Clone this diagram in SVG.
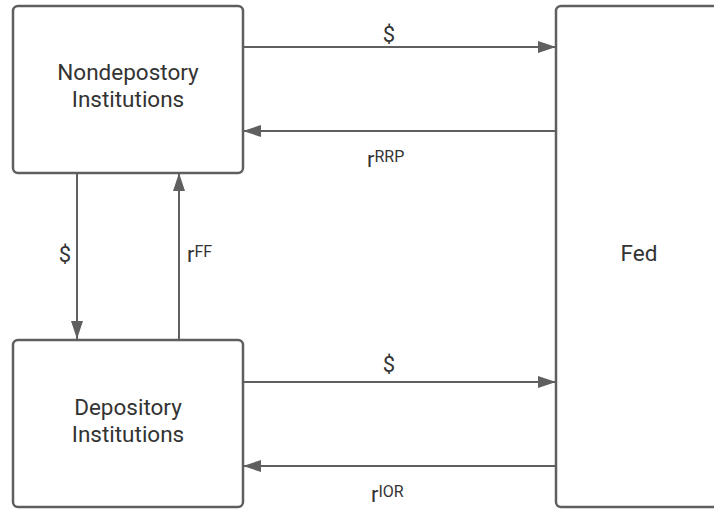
<svg xmlns="http://www.w3.org/2000/svg" width="714" height="510" viewBox="0 0 714 510">
<style>
.box{fill:#fff;stroke:#5f5f5f;stroke-width:2.5}
.lbl{font-family:Roboto,"Liberation Sans",sans-serif;font-size:22.5px;fill:#333;text-anchor:middle}
.cl{font-family:Roboto,"Liberation Sans",sans-serif;font-size:22px;fill:#333}
.sup{font-size:16px}
.edge{stroke:#5f5f5f;stroke-width:2;fill:none;marker-end:url(#ah)}
</style>
<defs>
<marker id="ah" markerWidth="18" markerHeight="12" refX="18" refY="6" orient="auto" markerUnits="userSpaceOnUse">
<path d="M0,0 L18,6 L0,12 Z" fill="#5f5f5f"/>
</marker>
</defs>
<rect width="714" height="510" fill="#fff"/>
<g id="connectors">
<line class="edge" x1="243" y1="47" x2="556" y2="47"/>
<line class="edge" x1="556" y1="131" x2="243" y2="131"/>
<line class="edge" x1="243" y1="382" x2="556" y2="382"/>
<line class="edge" x1="556" y1="466" x2="243" y2="466"/>
<line class="edge" x1="77" y1="173" x2="77" y2="339"/>
<line class="edge" x1="179" y1="339" x2="179" y2="173"/>
<text class="cl" x="389" y="42" text-anchor="middle">$</text>
<text class="cl" x="367" y="167">r<tspan class="sup" dy="-5">RRP</tspan></text>
<text class="cl" x="389" y="372" text-anchor="middle">$</text>
<text class="cl" x="371" y="502">r<tspan class="sup" dy="-5">IOR</tspan></text>
<text class="cl" x="65" y="262" text-anchor="middle">$</text>
<text class="cl" x="187" y="262">r<tspan class="sup" dy="-5">FF</tspan></text>
</g>
<g id="nondepository">
<rect class="box" x="13" y="6" width="230" height="167" rx="5"/>
<text class="lbl" x="128" y="80">Nondepostory</text>
<text class="lbl" x="128" y="107">Institutions</text>
</g>
<g id="depository">
<rect class="box" x="13" y="340" width="230" height="167" rx="5"/>
<text class="lbl" x="128" y="415">Depository</text>
<text class="lbl" x="128" y="442">Institutions</text>
</g>
<g id="fed">
<rect class="box" x="556" y="6" width="200" height="501" rx="5"/>
<text class="lbl" x="639" y="261">Fed</text>
</g>
</svg>
